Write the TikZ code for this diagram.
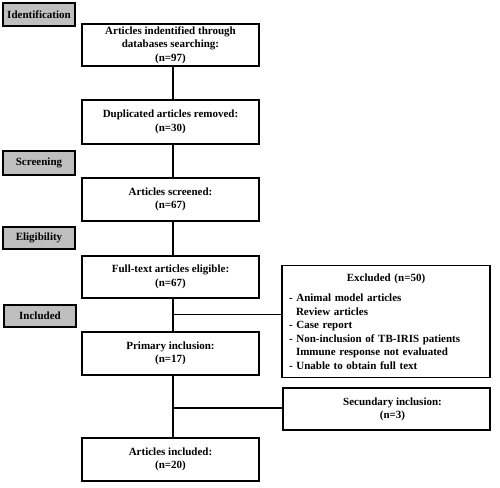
\documentclass[tikz,border=0pt]{standalone}
\usepackage{fontspec}
\setmainfont{Liberation Serif}
\begin{document}
\begin{tikzpicture}[x=1pt,y=-1pt,
  every node/.style={font=\fontsize{11}{13.3}\selectfont\bfseries},
  box/.style={draw=black, line width=1.5pt, fill=white, minimum width=177pt, align=center, inner sep=2pt},
  stage/.style={draw=black, line width=2.2pt, fill=gray!50, minimum width=72pt, inner sep=1pt},
  spine/.style={line width=2pt},
  side/.style={draw=black, line width=1.8pt, fill=white}]
\useasboundingbox (0,0) rectangle (500,487);
\fill[white] (0,0) rectangle (500,487);
% stage labels
\node[stage, minimum height=23pt] (sid) at (39,14.5) {Identification};
\node[stage, minimum height=24pt] (ssc) at (39,163) {Screening};
\node[stage, minimum height=22pt] (sel) at (39,238) {Eligibility};
\node[stage, minimum height=22pt] (sin) at (40,316) {Included};
% main boxes
\node[box, minimum height=42pt] (b1) at (170.5,45) {Articles indentified through\\databases searching:\\(n=97)};
\node[box, minimum height=44pt] (b2) at (170.5,122) {Duplicated articles removed:\\(n=30)};
\node[box, minimum height=43pt] (b3) at (170.5,199.5) {Articles screened:\\(n=67)};
\node[box, minimum height=42pt] (b4) at (170.5,277) {Full-text articles eligible:\\(n=67)};
\node[box, minimum height=43pt] (b5) at (170.5,353.5) {Primary inclusion:\\(n=17)};
\node[box, minimum height=43pt] (b6) at (170.5,459.5) {Articles included:\\(n=20)};
% side boxes
\node[side, minimum width=208pt, minimum height=112pt, text width=194pt, align=left, inner xsep=7pt,
      font=\fontsize{11}{13.5}\selectfont\bfseries] (ex) at (386,321.5)
 {\makebox[194pt][c]{Excluded (n=50)}\\[6.7pt]
  - Animal model articles\\
  \hspace*{7pt}Review articles\\
  - Case report\\
  - Non-inclusion of TB-IRIS patients\\
  \hspace*{7pt}Immune response not evaluated\\
  - Unable to obtain full text};
\node[side, minimum width=207pt, minimum height=42pt, inner sep=1pt] (sec) at (386.5,409)
 {\hspace*{12pt}\begin{tabular}{@{}c@{}}Secundary inclusion:\\(n=3)\end{tabular}};
% connectors
\coordinate (sp) at (173,0);
\coordinate (j1) at (173,314);
\coordinate (j2) at (173,408);
\draw[spine] (b1.south -| sp) -- (b2.north -| sp);
\draw[spine] (b2.south -| sp) -- (b3.north -| sp);
\draw[spine] (b3.south -| sp) -- (b4.north -| sp);
\draw[spine] (b4.south -| sp) -- (b5.north -| sp);
\draw[spine] (b5.south -| sp) -- (b6.north -| sp);
\draw[line width=0.9pt] (j1) -- (j1 -| ex.west);
\draw[spine] (j2) -- (j2 -| sec.west);
\end{tikzpicture}
\end{document}
